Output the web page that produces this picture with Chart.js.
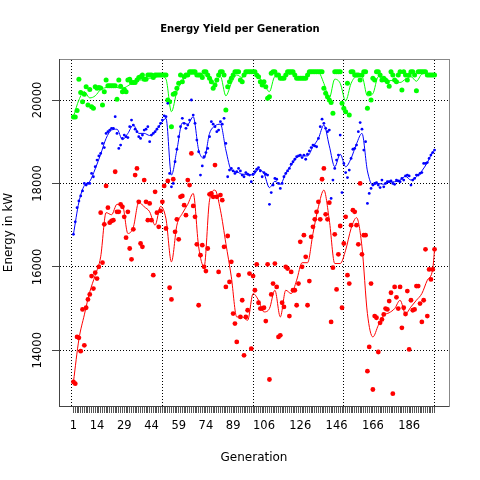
<!DOCTYPE html>
<html><head><meta charset="utf-8">
<script src="https://cdn.jsdelivr.net/npm/chart.js@4.4.1/dist/chart.umd.min.js"></script>
<style>html,body{margin:0;padding:0;background:#fff}</style>
</head><body>
<canvas id="c" width="480" height="480" style="width:480px;height:480px;display:block"></canvas>
<script>
// ---- data ----
const generations = Array.from({length: 200}, (_, i) => i + 1);
const xTickLabels = [1, 14, 29, 44, 59, 74, 89, 106, 126, 146, 166, 186];
const xGridValues = [0, 50, 100, 150, 200];
const yTickValues = [14000, 16000, 18000, 20000];

const maxEnergy = [
19590,19590,19750,20500,20180,19960,20140,20320,19880,20250,
19840,19800,20320,20280,20300,20290,19880,20200,20480,20340,
20340,20340,20340,20340,20020,20480,20330,20200,20250,20200,
20480,20500,20420,20420,20420,20480,20540,20560,20600,20500,
20500,20600,20600,20600,20540,20600,20600,20600,20600,20600,
20600,20600,20000,19960,19360,20140,20160,20280,20400,20600,
20440,20560,20600,20600,20680,20680,20680,20680,20600,20600,
20600,20540,20680,20680,20600,20520,20440,20280,20360,20480,
20600,20680,20680,20600,19760,20320,20440,20520,20600,20680,
20680,20680,20480,20440,20600,20680,20680,20680,20680,20680,
20680,20600,20560,20440,20360,20440,20320,20040,20080,20640,
20680,20680,20600,20600,20520,20520,20520,20600,20680,20680,
20680,20680,20600,20520,20520,20520,20520,20520,20520,20600,
20680,20680,20680,20680,20680,20680,20680,20680,20280,20160,
20080,20000,19940,19680,20680,20680,20680,20680,19920,19800,
19720,20400,19640,20680,20680,20600,20600,20600,20480,20600,
20680,20680,19800,20160,20000,20520,20480,20680,20680,20600,
20480,20520,20480,20440,20330,20680,20600,20480,20440,20600,
20680,20240,20680,20600,20480,20600,20680,20680,20600,20220,
20680,20680,20680,20680,20680,20600,20600,20600,20600,20600];

const meanEnergy = [
16780,17080,17420,17580,17700,17820,18000,17960,18000,18000,
18240,18160,18400,18560,18660,18720,18960,18860,19200,19240,
19280,19320,19320,19600,19200,18840,18920,19080,19160,19120,
19100,19360,19520,19400,19300,19240,19120,19080,19160,19280,
19300,19360,19000,19160,19200,19240,19300,19360,19440,19520,
19620,19600,19920,18240,17920,18000,18520,18820,19120,19360,
19560,19440,19320,19400,19520,20000,19640,19440,19040,18760,
18200,18420,18640,18740,18840,19120,19480,19420,19360,19240,
19280,19480,19420,19560,18960,18160,18320,18360,18300,18240,
18280,18360,18300,18200,18160,18260,18220,18200,18040,18220,
18280,18340,18380,18300,18160,18260,18220,18200,17500,17780,
17960,18120,18100,18000,17880,18000,18160,18240,18300,18360,
18460,18520,18580,18640,18660,18680,18620,18680,18580,18700,
18780,18860,18920,18900,18880,19080,19360,19540,19440,19320,
19240,19280,17640,18080,18360,18560,18680,19160,17780,18480,
18260,18140,18320,18600,18820,18840,18920,19240,19460,19300,
18800,19000,17520,17760,17880,17960,18000,18020,17960,17900,
18080,17920,18000,18040,18040,18060,18000,17980,18080,18060,
18040,18120,18080,18180,18200,18180,17960,18080,18120,18200,
18200,18240,18260,18480,18480,18500,18600,18680,18740,18800];

const minEnergy = [
13240,13200,14320,14300,13980,14980,14120,15020,15220,15340,
15780,15480,15860,15720,16000,17300,16100,17020,17940,17420,
17060,17100,17120,18280,17320,17320,17500,17440,17200,16700,
17320,16440,16180,16900,18200,18360,17560,16560,16480,18080,
17560,17120,17520,17120,15800,17800,17300,16960,17340,17560,
17940,16920,18060,15500,15220,18100,16840,17140,16660,17680,
17700,17480,17240,18080,17960,18720,17460,17200,16540,15080,
16280,16520,16000,15900,16440,17740,17760,17680,18440,17680,
15880,17720,17600,16480,15520,16740,15640,16120,14880,14640,
14200,15800,14800,15200,13880,14800,14960,15840,14040,15780,
15440,16060,15140,15000,15000,15020,14700,16060,13300,15340,
15600,16080,15520,14320,14360,15140,15040,16000,15960,14820,
15880,15440,15440,15080,15600,16600,16000,16760,16240,15080,
15660,16720,16960,17140,17320,17560,17140,18100,18360,17260,
17140,17540,14680,15980,16780,15460,16300,16980,15020,16560,
17200,15800,15600,17000,17360,17320,17000,16540,18000,16300,
16760,16760,13500,14080,15600,13060,14820,14780,13960,14660,
14740,14860,15000,14980,15180,15380,12960,15520,15270,15000,
15520,14540,15020,14870,15420,14020,15200,14960,14980,15540,
15540,15120,14680,15200,16420,14820,15940,15700,15940,16420];

// smoothed trend lines, read at every third generation
const trendGens = [1,4,7,10,13,16,19,22,25,28,31,34,37,40,43,46,49,52,55,58,61,64,67,70,73,76,79,82,85,88,91,94,97,100,
103,106,109,112,115,118,121,124,127,130,133,136,139,142,145,148,151,154,157,160,163,166,169,172,175,178,181,184,187,190,193,196,199,200];
const maxTrend = [19600,20000,20200,20050,20100,20250,20300,20330,20300,20280,20340,20420,20480,20480,20520,20540,20580,20500,19720,20200,
20460,20580,20620,20560,20600,20560,20400,20560,20100,20400,20600,20540,20640,20640,
20560,20380,20200,20560,20560,20580,20620,20560,20540,20580,20660,20660,20400,20050,20500,20400,19980,20400,20560,20560,
20100,20150,20560,20500,20460,20480,20420,20500,20560,20450,20620,20640,20620,20620];
const meanTrend = [16780,17550,17950,18050,18350,18700,19080,19280,19300,19050,19200,19400,19200,19200,19150,19240,19420,19560,18200,18800,
19450,19420,19600,18800,18600,19200,19380,19420,18800,18320,18280,18220,18220,18200,
18340,18240,17900,18050,17980,18240,18440,18620,18660,18660,18880,19080,19400,18900,18400,18700,18400,18600,18950,19200,
18300,17960,18000,17980,18030,18040,18080,18170,18080,18160,18300,18500,18760,18800];
const minTrend = [13240,14260,14850,15400,15800,16240,17300,17250,17500,17480,16800,16950,17550,17440,17320,17000,17450,17150,16120,17000,
17280,17500,17760,16480,16000,17600,17840,17360,16560,15760,14800,14800,14720,15360,
15200,14920,15000,15440,14800,15440,15360,15680,16100,16100,16800,17440,17840,17120,16080,16080,16400,16920,17180,16480,
14880,14320,14600,14840,14900,15000,15200,14880,15040,15200,15360,15680,15950,16420];

// ---- chart ----
const X_MIN = -6.96, X_MAX = 207.96, Y_MIN = 12665, Y_MAX = 20983;
const FONT = 'DejaVu Sans';
const pts = vals => generations.map((g, i) => ({x: g, y: vals[i]}));
const trend = vals => trendGens.map((g, i) => ({x: g, y: vals[i]}));

function pointSet(label, vals, color, r) {
  return {label, data: pts(vals), showLine: false, pointRadius: r, pointBorderWidth: 0,
    pointBackgroundColor: color, backgroundColor: color, borderColor: color};
}
function lineSet(label, vals, color) {
  return {label, data: trend(vals), showLine: true, pointRadius: 0, borderWidth: 1,
    borderColor: color, backgroundColor: color, fill: false, cubicInterpolationMode: 'monotone'};
}

const yLabelPlugin = {
  id: 'yRotLabels',
  afterDraw(chart) {
    const s = chart.scales.y, ctx = chart.ctx;
    ctx.save();
    ctx.font = '11.5px "' + FONT + '"';
    ctx.fillStyle = '#000';
    ctx.textAlign = 'center';
    ctx.textBaseline = 'middle';
    yTickValues.forEach(v => {
      ctx.save();
      ctx.translate(38, s.getPixelForValue(v));
      ctx.rotate(-Math.PI / 2);
      ctx.fillText(String(v), 0, 0);
      ctx.restore();
    });
    ctx.restore();
  }
};

new Chart(document.getElementById('c'), {
  type: 'scatter',
  data: {
    datasets: [
      lineSet('Min trend', minTrend, '#ff0000'),
      lineSet('Mean trend', meanTrend, '#0000ff'),
      lineSet('Max trend', maxTrend, '#00ff00'),
      pointSet('Min', minEnergy, '#ff0000', 2.4),
      pointSet('Mean', meanEnergy, '#0000ff', 1.4),
      pointSet('Max', maxEnergy, '#00ff00', 2.5)
    ]
  },
  options: {
    responsive: false, animation: false, devicePixelRatio: 1, events: [],
    layout: {padding: 0},
    plugins: {
      legend: {display: false}, tooltip: {enabled: false},
      title: {display: true, text: 'Energy Yield per Generation', color: '#000',
        font: {family: FONT, size: 10, weight: 'bold'}, padding: {top: 23, bottom: 24}}
    },
    scales: {
      x: {
        type: 'linear', position: 'bottom', min: X_MIN, max: X_MAX,
        afterBuildTicks: s => { s.ticks = generations.map(v => ({value: v})); },
        afterFit: s => { s.height = 74; },
        ticks: {autoSkip: false, maxRotation: 0, minRotation: 0, padding: 6, color: '#000',
          font: {family: FONT, size: 11.5},
          callback: v => xTickLabels.includes(v) ? String(v) : ''},
        grid: {drawOnChartArea: false, drawTicks: true, tickLength: 7, tickColor: '#555', tickWidth: 1},
        border: {display: true, color: '#444'},
        title: {display: true, text: 'Generation', color: '#000', font: {family: FONT, size: 12},
          padding: {top: 0, bottom: 15}}
      },
      x2: {
        type: 'linear', position: 'top', min: X_MIN, max: X_MAX,
        afterBuildTicks: s => { s.ticks = xGridValues.map(v => ({value: v})); },
        afterFit: s => { s.height = 0; },
        ticks: {display: false},
        grid: {drawOnChartArea: true, drawTicks: false, color: '#000', lineWidth: 1},
        border: {display: true, color: '#888', dash: [1, 2]}
      },
      y: {
        type: 'linear', position: 'left', min: Y_MIN, max: Y_MAX,
        afterBuildTicks: s => { s.ticks = yTickValues.map(v => ({value: v})); },
        afterFit: s => { s.width = 59; },
        ticks: {display: false},
        grid: {drawOnChartArea: true, drawTicks: true, tickLength: 7, color: '#000', lineWidth: 1,
          tickColor: '#444', tickBorderDash: []},
        border: {display: true, color: '#444', dash: [1, 2]},
        title: {display: true, text: 'Energy in kW', color: '#000', font: {family: FONT, size: 12},
          padding: {top: 2, bottom: 0}}
      },
      y2: {
        type: 'linear', position: 'right', min: Y_MIN, max: Y_MAX,
        afterFit: s => { s.width = 31; },
        ticks: {display: false},
        grid: {display: false, drawTicks: false},
        border: {display: true, color: '#888'}
      }
    }
  },
  plugins: [yLabelPlugin]
});
</script>
</body></html>
